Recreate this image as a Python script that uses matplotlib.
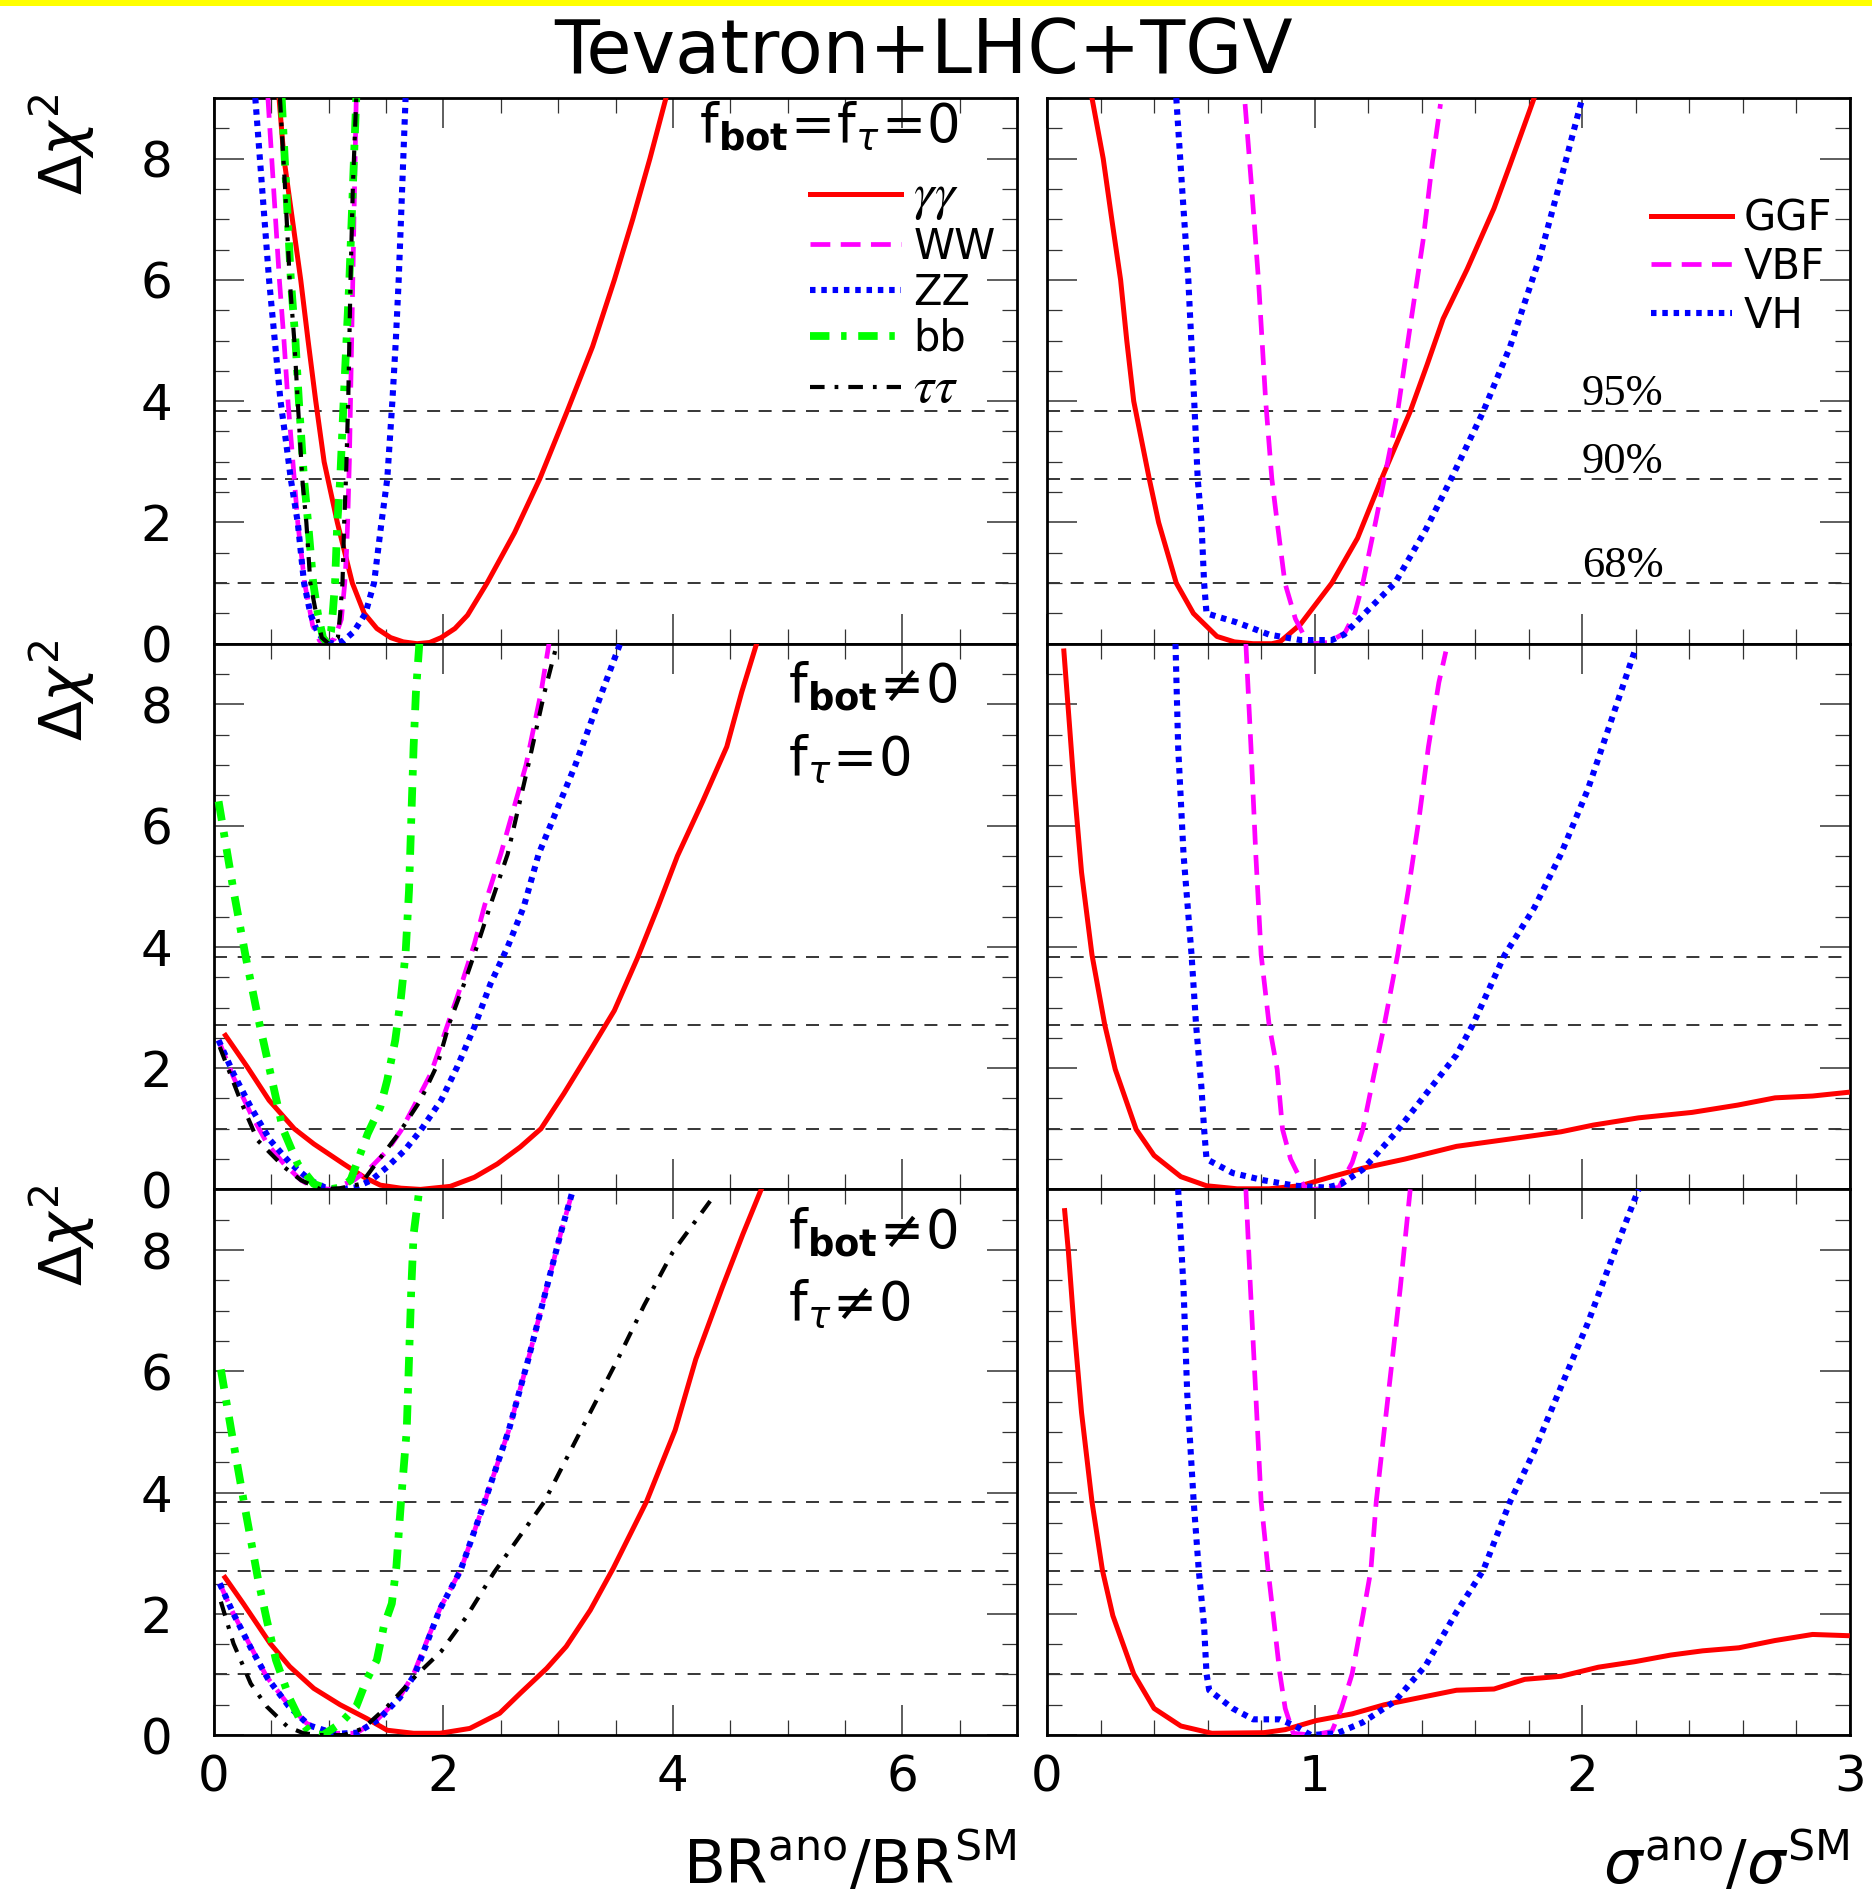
import matplotlib
matplotlib.use("Agg")
import matplotlib.pyplot as plt
from matplotlib.patches import Rectangle
from matplotlib.ticker import MultipleLocator

plt.rcParams['font.family'] = ['DejaVu Sans']
plt.rcParams['mathtext.fontset'] = 'dejavusans'

# ---------------------------------------------------------------------------
# Delta chi^2 scans versus anomalous branching ratio (left column)
# ---------------------------------------------------------------------------
# row 1 : f_bot = f_tau = 0
r1_gg_x = [0.567, 0.61, 0.683, 0.756, 0.82, 0.887, 0.96, 1.075, 1.206, 1.31, 1.42, 1.54, 1.65, 1.77,
           1.88, 1.98, 2.10, 2.21, 2.38, 2.62, 2.84, 3.08, 3.30, 3.49, 3.65, 3.80, 3.94]
r1_gg_y = [9.0, 8.0, 7.0, 6.0, 5.0, 4.0, 3.0, 2.0, 1.0, 0.5, 0.25, 0.1, 0.03, 0.0,
           0.02, 0.1, 0.25, 0.47, 1.0, 1.83, 2.72, 3.84, 4.9, 6.0, 7.0, 8.0, 9.0]
r1_ww_x = [0.47, 0.52, 0.57, 0.61, 0.645, 0.70, 0.73, 0.79, 0.86, 0.92, 0.98, 1.05, 1.11, 1.14,
           1.155, 1.165, 1.18, 1.19, 1.21, 1.225, 1.24]
r1_ww_y = [9.0, 7.5, 6.0, 5.0, 4.0, 2.71, 2.0, 1.0, 0.3, 0.05, 0.0, 0.08, 0.4, 1.0,
           1.5, 2.0, 3.0, 4.0, 6.0, 7.5, 9.0]
r1_zz_x = [0.36, 0.42, 0.48, 0.53, 0.58, 0.63, 0.67, 0.73, 0.785, 0.84, 0.90, 0.97, 1.05, 1.13,
           1.22, 1.32, 1.395, 1.46, 1.51, 1.555, 1.585, 1.61, 1.64, 1.67]
r1_zz_y = [9.0, 7.5, 6.0, 5.0, 4.0, 3.3, 2.71, 2.0, 1.0, 0.5, 0.2, 0.03, 0.0, 0.05,
           0.2, 0.5, 1.0, 2.0, 2.71, 4.0, 5.0, 6.0, 7.5, 9.0]
r1_bb_x = [0.59, 0.63, 0.67, 0.71, 0.74, 0.785, 0.82, 0.865, 0.905, 0.95, 0.99, 1.02, 1.035, 1.055,
           1.075, 1.10, 1.13, 1.155, 1.18, 1.21, 1.24]
r1_bb_y = [9.0, 7.5, 6.0, 5.0, 4.0, 2.71, 2.0, 1.0, 0.5, 0.1, 0.0, 0.2, 0.5, 1.0,
           2.0, 2.71, 4.0, 5.0, 6.0, 7.5, 9.0]
r1_tt_x = [0.575, 0.62, 0.66, 0.70, 0.73, 0.77, 0.805, 0.84, 0.89, 0.94, 1.0, 1.08, 1.10, 1.12,
           1.135, 1.15, 1.17, 1.18, 1.19, 1.21, 1.24]
r1_tt_y = [9.0, 7.5, 6.0, 5.0, 4.0, 2.71, 2.0, 1.0, 0.5, 0.1, 0.0, 0.1, 0.5, 1.0,
           2.0, 2.71, 4.0, 5.0, 6.0, 7.5, 9.0]

# row 2 : f_bot != 0, f_tau = 0
r2_gg_x = [0.10, 0.29, 0.48, 0.70, 0.87, 1.13, 1.31, 1.45, 1.63, 1.80, 2.06, 2.27, 2.47, 2.67,
           2.85, 3.05, 3.28, 3.49, 3.69, 3.87, 4.04, 4.26, 4.47, 4.60, 4.73]
r2_gg_y = [2.54, 2.02, 1.47, 1.0, 0.75, 0.42, 0.2, 0.07, 0.02, 0.0, 0.05, 0.2, 0.42, 0.7,
           1.0, 1.58, 2.29, 2.95, 3.81, 4.66, 5.5, 6.4, 7.3, 8.2, 9.0]
r2_ww_x = [0.04, 0.17, 0.32, 0.465, 0.61, 0.76, 0.87, 1.02, 1.22, 1.37, 1.51, 1.63, 1.74, 1.89,
           2.03, 2.15, 2.27, 2.36, 2.50, 2.72, 2.85, 2.92]
r2_ww_y = [2.46, 1.85, 1.25, 0.75, 0.42, 0.15, 0.03, 0.0, 0.15, 0.37, 0.64, 0.97, 1.36, 1.91,
           2.68, 3.34, 4.05, 4.69, 5.53, 7.0, 8.19, 9.0]
r2_zz_x = [0.04, 0.17, 0.32, 0.49, 0.67, 0.84, 0.97, 1.10, 1.23, 1.37, 1.51, 1.66, 1.80, 1.98,
           2.12, 2.27, 2.41, 2.56, 2.70, 2.83, 3.15, 3.38, 3.54]
r2_zz_y = [2.46, 1.91, 1.36, 0.81, 0.42, 0.15, 0.03, 0.0, 0.03, 0.15, 0.37, 0.64, 0.97, 1.47,
           2.02, 2.68, 3.39, 4.0, 4.66, 5.53, 7.0, 8.19, 9.0]
r2_bb_x = [0.04, 0.17, 0.276, 0.38, 0.48, 0.60, 0.73, 0.87, 1.0, 1.10, 1.19, 1.34, 1.45, 1.51,
           1.58, 1.63, 1.67, 1.70, 1.72, 1.74, 1.76, 1.79]
r2_bb_y = [6.4, 4.93, 3.84, 2.87, 2.02, 1.0, 0.42, 0.09, 0.0, 0.03, 0.15, 0.92, 1.36, 1.8,
           2.46, 3.17, 3.89, 4.93, 6.12, 7.3, 8.19, 9.0]
r2_tt_x = [0.05, 0.23, 0.38, 0.61, 0.76, 0.93, 1.10, 1.28, 1.39, 1.61, 1.80, 1.95, 2.05, 2.18,
           2.30, 2.41, 2.56, 2.74, 2.88, 2.99]
r2_tt_y = [2.35, 1.47, 0.81, 0.37, 0.15, 0.0, 0.02, 0.09, 0.37, 0.92, 1.47, 2.07, 2.73, 3.39,
           4.05, 4.69, 5.53, 7.0, 8.19, 9.0]

# row 3 : f_bot != 0, f_tau != 0
r3_gg_x = [0.096, 0.255, 0.49, 0.66, 0.87, 1.10, 1.33, 1.51, 1.74, 1.97, 2.23, 2.49, 2.67, 2.90,
           3.07, 3.28, 3.48, 3.77, 4.02, 4.20, 4.43, 4.61, 4.77]
r3_gg_y = [2.6, 2.17, 1.51, 1.13, 0.77, 0.5, 0.275, 0.08, 0.03, 0.03, 0.11, 0.36, 0.69, 1.1,
           1.46, 2.06, 2.75, 3.85, 5.03, 6.2, 7.38, 8.26, 9.0]
r3_ww_x = [0.05, 0.17, 0.32, 0.46, 0.64, 0.81, 1.04, 1.24, 1.42, 1.62, 1.74, 1.97, 2.15, 2.36,
           2.57, 2.74, 2.90, 3.02, 3.13]
r3_ww_y = [2.5, 2.0, 1.46, 0.96, 0.52, 0.19, 0.03, 0.03, 0.25, 0.63, 1.01, 2.09, 2.72, 3.85,
           5.03, 6.2, 7.38, 8.26, 9.0]
r3_zz_x = [0.05, 0.17, 0.32, 0.47, 0.65, 0.83, 1.06, 1.25, 1.43, 1.62, 1.75, 1.97, 2.15, 2.36,
           2.57, 2.74, 2.90, 3.02, 3.13]
r3_zz_y = [2.5, 2.0, 1.44, 0.93, 0.48, 0.16, 0.02, 0.04, 0.25, 0.62, 1.0, 2.08, 2.72, 3.85,
           5.03, 6.2, 7.38, 8.26, 9.0]
r3_bb_x = [0.06, 0.15, 0.26, 0.384, 0.46, 0.54, 0.66, 0.75, 0.84, 0.95, 1.10, 1.24, 1.33, 1.42,
           1.48, 1.55, 1.59, 1.63, 1.68, 1.70, 1.72, 1.74, 1.79]
r3_bb_y = [6.03, 5.03, 3.85, 2.57, 1.90, 1.24, 0.6, 0.25, 0.03, 0.0, 0.19, 0.47, 0.91, 1.24,
           1.79, 2.17, 2.78, 3.85, 5.03, 6.2, 7.38, 8.26, 9.0]
r3_tt_x = [0.06, 0.17, 0.32, 0.46, 0.64, 0.78, 0.93, 1.13, 1.30, 1.51, 1.76, 1.98, 2.20, 2.44,
           2.88, 3.20, 3.52, 3.75, 4.00, 4.33]
r3_tt_y = [2.2, 1.51, 0.85, 0.47, 0.14, 0.03, 0.0, 0.0, 0.11, 0.47, 0.98, 1.38, 1.95, 2.68,
           3.85, 5.03, 6.2, 7.09, 7.97, 8.82]

# ---------------------------------------------------------------------------
# Delta chi^2 scans versus anomalous production cross section (right column)
# ---------------------------------------------------------------------------
r1_ggf_x = [0.168, 0.21, 0.242, 0.275, 0.298, 0.324, 0.382, 0.417, 0.483, 0.547, 0.635, 0.70, 0.77,
            0.84, 0.87, 0.947, 1.064, 1.16, 1.25, 1.357, 1.42, 1.48, 1.57, 1.67, 1.73, 1.82]
r1_ggf_y = [9.0, 8.0, 7.0, 6.0, 5.0, 4.0, 2.72, 2.0, 1.0, 0.5, 0.12, 0.03, 0.0,
            0.0, 0.03, 0.32, 1.0, 1.74, 2.72, 3.83, 4.6, 5.36, 6.18, 7.18, 7.9, 9.0]
r1_vbf_x = [0.74, 0.765, 0.79, 0.817, 0.84, 0.86, 0.889, 0.928, 0.97, 0.99, 1.05, 1.113, 1.15, 1.18,
            1.23, 1.26, 1.31, 1.357, 1.405, 1.44, 1.47]
r1_vbf_y = [8.9, 7.5, 6.0, 4.0, 2.72, 2.0, 1.0, 0.41, 0.05, 0.0, 0.02, 0.18, 0.5, 1.0,
            2.06, 2.72, 3.83, 5.24, 6.65, 7.95, 8.9]
r1_vh_x = [0.483, 0.505, 0.528, 0.55, 0.563, 0.577, 0.587, 0.596, 0.71, 0.83, 0.947, 1.064, 1.11,
           1.18, 1.30, 1.415, 1.51, 1.63, 1.73, 1.84, 1.92, 2.0]
r1_vh_y = [9.0, 7.5, 6.0, 4.0, 2.72, 2.0, 1.0, 0.5, 0.35, 0.15, 0.06, 0.06, 0.15,
           0.47, 1.0, 1.88, 2.72, 3.83, 4.9, 6.36, 7.66, 9.0]

r2_ggf_x = [0.063, 0.08, 0.10, 0.129, 0.168, 0.216, 0.255, 0.333, 0.40, 0.50, 0.596, 0.71, 0.83,
            0.947, 1.064, 1.18, 1.337, 1.53, 1.727, 1.92, 2.04, 2.21, 2.41, 2.58, 2.72, 2.86, 2.99]
r2_ggf_y = [8.88, 7.89, 6.71, 5.23, 3.87, 2.71, 1.98, 0.99, 0.56, 0.21, 0.06, 0.01, 0.01,
            0.06, 0.21, 0.35, 0.5, 0.71, 0.83, 0.95, 1.06, 1.18, 1.27, 1.39, 1.51, 1.54, 1.6]
r2_vbf_x = [0.743, 0.762, 0.78, 0.80, 0.83, 0.86, 0.88, 0.91, 0.96, 0.99, 1.09, 1.14, 1.18, 1.22,
            1.26, 1.31, 1.35, 1.39, 1.425, 1.464, 1.49]
r2_vbf_y = [9.0, 7.3, 5.53, 3.87, 2.71, 1.98, 0.99, 0.5, 0.05, 0.0, 0.03, 0.44, 0.99, 1.86,
            2.71, 3.87, 4.94, 6.12, 7.3, 8.36, 8.87]
r2_vh_x = [0.48, 0.49, 0.51, 0.54, 0.557, 0.577, 0.587, 0.596, 0.694, 0.81, 0.928, 1.045, 1.10,
           1.18, 1.30, 1.415, 1.53, 1.59, 1.71, 1.82, 1.92, 2.02, 2.12, 2.195]
r2_vh_y = [9.0, 7.3, 5.53, 3.87, 2.71, 1.68, 0.99, 0.5, 0.27, 0.15, 0.06, 0.03, 0.09,
           0.33, 0.92, 1.57, 2.22, 2.71, 3.87, 4.64, 5.53, 6.59, 7.89, 8.87]

r3_ggf_x = [0.066, 0.08, 0.10, 0.129, 0.168, 0.207, 0.246, 0.324, 0.40, 0.50, 0.616, 0.81, 0.89,
            1.006, 1.14, 1.26, 1.395, 1.53, 1.67, 1.785, 1.92, 2.06, 2.195, 2.33, 2.45, 2.585,
            2.72, 2.86, 2.99]
r3_ggf_y = [8.65, 7.97, 6.79, 5.32, 3.85, 2.72, 1.97, 1.01, 0.44, 0.15, 0.03, 0.04, 0.09,
            0.24, 0.35, 0.5, 0.62, 0.74, 0.76, 0.92, 0.97, 1.12, 1.21, 1.32, 1.39, 1.44,
            1.56, 1.66, 1.64]
r3_vbf_x = [0.743, 0.76, 0.78, 0.80, 0.826, 0.85, 0.87, 0.89, 0.92, 0.99, 1.064, 1.10, 1.14, 1.18,
            1.21, 1.23, 1.26, 1.29, 1.32, 1.34, 1.357]
r3_vbf_y = [9.0, 7.38, 5.62, 3.85, 2.72, 1.79, 1.01, 0.44, 0.03, 0.0, 0.06, 0.44, 1.01, 1.97,
            2.72, 3.85, 5.03, 6.2, 7.38, 8.26, 9.0]
r3_vh_x = [0.49, 0.51, 0.524, 0.548, 0.567, 0.587, 0.596, 0.606, 0.694, 0.77, 0.87, 0.928, 0.986,
           1.084, 1.18, 1.30, 1.415, 1.53, 1.63, 1.73, 1.82, 1.92, 2.02, 2.12, 2.21]
r3_vh_y = [9.0, 7.38, 5.62, 3.85, 2.72, 1.79, 1.01, 0.74, 0.44, 0.26, 0.26, 0.15, 0.0,
           0.03, 0.21, 0.56, 1.15, 2.03, 2.72, 3.85, 4.68, 5.74, 6.79, 7.97, 9.0]

# labels and reference levels
decay_labels = [r'$\gamma\gamma$', 'WW', 'ZZ', 'bb', r'$\tau\tau$']
production_labels = ['GGF', 'VBF', 'VH']
cl_levels = [3.84, 2.71, 1.0]
cl_labels = ['95%', '90%', '68%']
row_notes = [
    [r'$\mathrm{f}_{\mathbf{bot}}\!=\!\mathrm{f}_{\tau}\!=\!0$'],
    [r'$\mathrm{f}_{\mathbf{bot}}\!\neq\!0$', r'$\mathrm{f}_{\tau}\!=\!0$'],
    [r'$\mathrm{f}_{\mathbf{bot}}\!\neq\!0$', r'$\mathrm{f}_{\tau}\!\neq\!0$'],
]
br_xticks = [0, 2, 4, 6]
xs_xticks = [0, 1, 2, 3]
chi2_yticks = [0, 2, 4, 6, 8]

# line styles (dash patterns in units of line width)
decay_styles = [
    dict(color='#ff0000', lw=3.6, ls='-'),
    dict(color='#ff00ff', lw=3.4, ls=(0, (4.2, 2.2))),
    dict(color='#0000ff', lw=4.4, ls=(0, (0.9, 0.95))),
    dict(color='#00ff00', lw=5.6, ls=(0, (2.5, 1.5, 0.7, 1.5))),
    dict(color='#000000', lw=3.0, ls=(0, (3.5, 2.4, 0.9, 2.4))),
]
production_styles = [decay_styles[0], decay_styles[1], decay_styles[2]]

br_rows = [
    [(r1_gg_x, r1_gg_y), (r1_ww_x, r1_ww_y), (r1_zz_x, r1_zz_y), (r1_bb_x, r1_bb_y), (r1_tt_x, r1_tt_y)],
    [(r2_gg_x, r2_gg_y), (r2_ww_x, r2_ww_y), (r2_zz_x, r2_zz_y), (r2_bb_x, r2_bb_y), (r2_tt_x, r2_tt_y)],
    [(r3_gg_x, r3_gg_y), (r3_ww_x, r3_ww_y), (r3_zz_x, r3_zz_y), (r3_bb_x, r3_bb_y), (r3_tt_x, r3_tt_y)],
]
xs_rows = [
    [(r1_ggf_x, r1_ggf_y), (r1_vbf_x, r1_vbf_y), (r1_vh_x, r1_vh_y)],
    [(r2_ggf_x, r2_ggf_y), (r2_vbf_x, r2_vbf_y), (r2_vh_x, r2_vh_y)],
    [(r3_ggf_x, r3_ggf_y), (r3_vbf_x, r3_vbf_y), (r3_vh_x, r3_vh_y)],
]

# ---------------------------------------------------------------------------
W, H = 1872, 1896
fig = plt.figure(figsize=(W / 100, H / 100), dpi=100)
fig.add_artist(Rectangle((0, 1 - 6 / H), 1, 6 / H, transform=fig.transFigure,
                         facecolor='#ffff00', edgecolor='none'))
fig.text(0.4932, 1 - 73 / H, 'Tevatron+LHC+TGV', ha='center', va='baseline', fontsize=53)

col_x = [214 / W, 1047 / W]
col_w = 803 / W
row_h = 545.7 / H
row_y = [1 - (98 + row_h * H * (i + 1)) / H for i in range(3)]


def setup(ax, xmax, xticks, xminor, bottom_row, left_col):
    ax.set_xlim(0, xmax)
    ax.set_ylim(0, 9)
    ax.set_xticks(xticks)
    ax.xaxis.set_minor_locator(MultipleLocator(xminor))
    ax.set_yticks(chi2_yticks)
    ax.yaxis.set_minor_locator(MultipleLocator(0.5))
    ax.tick_params(which='both', direction='in', top=True, right=True, color='#333333')
    ax.tick_params(which='major', length=21.5, width=1.1)
    ax.tick_params(which='minor', length=10.8, width=0.9)
    ax.tick_params(axis='x', labelsize=36, pad=13, labelbottom=bottom_row)
    ax.tick_params(axis='y', labelsize=36, pad=30, labelleft=left_col)
    for s in ax.spines.values():
        s.set_linewidth(2.0)
    for lev in cl_levels:
        ax.axhline(lev, color='black', lw=1.1, ls=(0, (8.5, 7.0)), zorder=1)


for i in range(3):
    # branching-ratio panel
    ax = fig.add_axes([col_x[0], row_y[i], col_w, row_h])
    setup(ax, 7, br_xticks, 0.5, i == 2, True)
    handles = []
    for (x, y), st in zip(br_rows[i], decay_styles):
        ln, = ax.plot(x, y, color=st['color'], lw=st['lw'], ls=st['ls'], zorder=3)
        handles.append(ln)
    ax.set_ylabel(r'$\Delta\chi^{2}$', fontsize=42, rotation=90, ha='center', va='center')
    ax.yaxis.set_label_coords(-0.189, 0.915)
    if i == 0:
        leg = ax.legend(handles, decay_labels, loc='upper left', bbox_to_anchor=(0.742, 0.868),
                        frameon=False, fontsize=30, handlelength=2.2, handletextpad=0.28,
                        labelspacing=0.09, borderpad=0, borderaxespad=0)
        for t in leg.get_texts():
            if '$' in t.get_text():
                t.set_math_fontfamily('stix')
                t.set_fontsize(37)
        ax.text(0.604, 0.947, row_notes[0][0], transform=ax.transAxes, fontsize=38,
                ha='left', va='center')
    else:
        ax.text(0.715, 0.92, row_notes[i][0], transform=ax.transAxes, fontsize=38,
                ha='left', va='center')
        ax.text(0.715, 0.788, row_notes[i][1], transform=ax.transAxes, fontsize=38,
                ha='left', va='center')
    if i == 2:
        ax.set_xlabel(r'$\mathrm{BR}^{\mathrm{ano}}/\mathrm{BR}^{\mathrm{SM}}$', fontsize=44,
                      ha='right', va='baseline')
        ax.xaxis.set_label_coords(1.0, -0.272)

    # cross-section panel
    ax = fig.add_axes([col_x[1], row_y[i], col_w, row_h])
    setup(ax, 3, xs_xticks, 0.2, i == 2, False)
    handles = []
    for (x, y), st in zip(xs_rows[i], production_styles):
        ln, = ax.plot(x, y, color=st['color'], lw=st['lw'], ls=st['ls'], zorder=3)
        handles.append(ln)
    if i == 0:
        ax.legend(handles, production_labels, loc='upper left', bbox_to_anchor=(0.752, 0.818),
                  frameon=False, fontsize=30, handlelength=1.95, handletextpad=0.28,
                  labelspacing=0.16, borderpad=0, borderaxespad=0)
        for lev, lab in zip(cl_levels, cl_labels):
            ax.text(2.15, lev + 0.28, lab, fontsize=32, family='Liberation Serif',
                    ha='center', va='center')
    if i == 2:
        ax.set_xlabel(r'$\sigma^{\mathrm{ano}}/\sigma^{\mathrm{SM}}$', fontsize=44,
                      ha='right', va='baseline')
        ax.xaxis.set_label_coords(1.0, -0.272)

fig.savefig('out.png', dpi=100)
